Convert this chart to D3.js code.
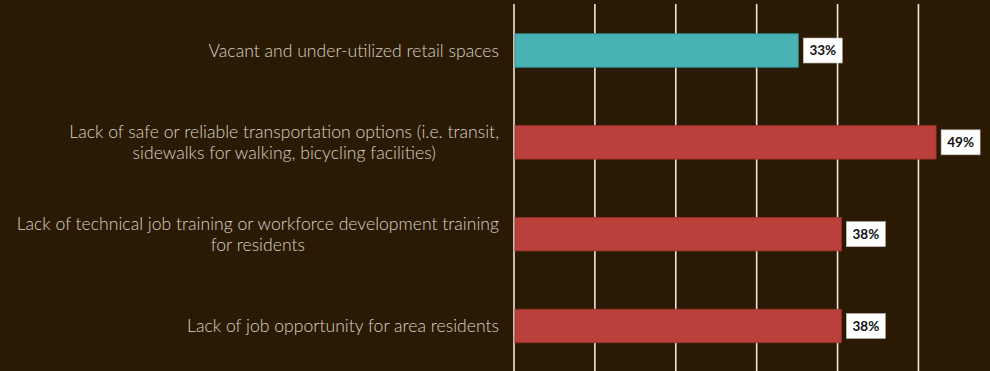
<!DOCTYPE html>
<html>
<head>
<meta charset="utf-8">
<script src="https://cdn.jsdelivr.net/npm/d3@7"></script>
<style>
  html, body { margin: 0; padding: 0; background: #2b1a03; }
  svg { display: block; }
</style>
</head>
<body>
<svg id="chart" width="990" height="371"></svg>
<script>
// Survey responses: share of respondents naming each issue
const categories = [
  ["Vacant and under-utilized retail spaces"],
  ["Lack of safe or reliable transportation options (i.e. transit,", "sidewalks for walking, bicycling facilities)"],
  ["Lack of technical job training or workforce development training", "for residents"],
  ["Lack of job opportunity for area residents"]
];
const values = [33, 49, 38, 38];
const valueLabels = ["33%", "49%", "38%", "38%"];
const barColors = ["#48b2b4", "#b9403b", "#b9403b", "#b9403b"];
const barStrokes = ["#2f8f90", "#9a302c", "#9a302c", "#9a302c"];

const W = 990, H = 371;
const plotLeft = 514, plotRight = 999;
const svg = d3.select("#chart");

svg.append("rect").attr("width", W).attr("height", H).attr("fill", "#2b1a03");

const x = d3.scaleLinear().domain([0, 56.3]).range([plotLeft, plotRight]);
const y = d3.scaleBand()
  .domain(d3.range(categories.length))
  .range([4.6, 371.9])
  .paddingInner(0.635)
  .paddingOuter(0.3175);

// vertical gridlines
const gridStep = 9.39;
const gridVals = d3.range(0, 7).map(i => i * gridStep);
svg.append("g").selectAll("line").data(gridVals).join("line")
  .attr("x1", d => x(d)).attr("x2", d => x(d))
  .attr("y1", 4).attr("y2", H)
  .attr("stroke", "#ece8e0").attr("stroke-width", 1.6);

// bars
svg.append("g").selectAll("rect").data(values).join("rect")
  .attr("x", x(0) + 1)
  .attr("y", (d, i) => y(i))
  .attr("width", d => x(d) - x(0) - 1)
  .attr("height", y.bandwidth())
  .attr("fill", (d, i) => barColors[i])
  .attr("stroke", (d, i) => barStrokes[i])
  .attr("stroke-width", 0.8);

// value labels in white boxes
const lab = svg.append("g").selectAll("g").data(values).join("g")
  .attr("transform", (d, i) => `translate(${x(d) + 5},${y(i) + y.bandwidth() / 2})`);
lab.append("rect")
  .attr("x", 0).attr("y", -12.5).attr("width", 39).attr("height", 25)
  .attr("fill", "#ffffff").attr("stroke", "#bdb6ad").attr("stroke-width", 0.6);
lab.append("text")
  .attr("x", 19.5).attr("y", 4.8)
  .attr("text-anchor", "middle")
  .attr("font-family", "Lato, 'Open Sans', sans-serif")
  .attr("font-weight", 700)
  .attr("font-size", 13.5)
  .attr("fill", "#111")
  .text((d, i) => valueLabels[i]);

// category labels: block right-aligned, lines centred within block
const labelRight = 499;
const lineH = 20.5;
const cat = svg.append("g")
  .attr("font-family", "Lato, 'Noto Sans', sans-serif")
  .attr("font-size", 17.6)
  .attr("font-weight", 300)
  .attr("fill", "#d8d2c8");
categories.forEach((lines, i) => {
  const cy = y(i) + y.bandwidth() / 2;
  const g = cat.append("g");
  const texts = lines.map(l => g.append("text").text(l));
  const widths = texts.map(t => t.node().getComputedTextLength());
  const cx = labelRight - d3.max(widths) / 2;
  const first = lines.length === 1 ? cy + 6 : cy - 4;
  texts.forEach((t, k) => t.attr("x", cx).attr("y", first + k * lineH).attr("text-anchor", "middle"));
});
</script>
</body>
</html>
